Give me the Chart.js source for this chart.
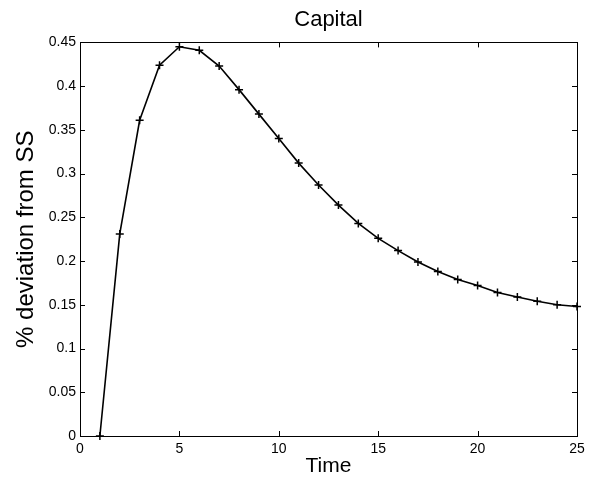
<!DOCTYPE html>
<html>
<head>
<meta charset="utf-8">
<script src="https://cdn.jsdelivr.net/npm/chart.js@4"></script>
<style>
  body { margin: 0; background: #fff; }
  #wrap { width: 603px; height: 484px; }
</style>
</head>
<body>
<div id="wrap"><canvas id="canvas" width="603" height="484"></canvas></div>
<script>
'use strict';

// time periods and capital response (% deviation from steady state)
var time = [1, 2, 3, 4, 5, 6, 7, 8, 9, 10, 11, 12, 13, 14, 15, 16, 17, 18, 19, 20, 21, 22, 23, 24, 25];
var capital = [0, 0.231, 0.361, 0.424, 0.445, 0.441, 0.423, 0.396, 0.368, 0.340, 0.312, 0.287, 0.264, 0.243, 0.226,
	0.212, 0.199, 0.188, 0.179, 0.172, 0.164, 0.159, 0.154, 0.150, 0.148];
var xTicks = [0, 5, 10, 15, 20, 25];
var yTicks = [0, 0.05, 0.1, 0.15, 0.2, 0.25, 0.3, 0.35, 0.4, 0.45];

var fontFamily = "'Liberation Sans', Arial, sans-serif";

// box around the axes plus inward tick marks on every side (matlab look)
var boxPlugin = {
	id: 'box',
	afterDraw: function(chart) {
		var ctx = chart.ctx;
		var a = chart.chartArea;
		var xs = chart.scales.x;
		var ys = chart.scales.y;
		var len = 5;
		ctx.save();
		ctx.strokeStyle = '#000';
		ctx.lineWidth = 1;
		ctx.strokeRect(Math.round(a.left) + 0.5, Math.round(a.top) + 0.5,
			Math.round(a.right - a.left), Math.round(a.bottom - a.top));
		ctx.beginPath();
		for (var i = 0; i < xTicks.length; i++) {
			var px = Math.round(xs.getPixelForValue(xTicks[i])) + 0.5;
			ctx.moveTo(px, a.bottom);
			ctx.lineTo(px, a.bottom - len);
			ctx.moveTo(px, a.top);
			ctx.lineTo(px, a.top + len);
		}
		for (var j = 0; j < yTicks.length; j++) {
			var py = Math.round(ys.getPixelForValue(yTicks[j])) + 0.5;
			ctx.moveTo(a.left, py);
			ctx.lineTo(a.left + len, py);
			ctx.moveTo(a.right, py);
			ctx.lineTo(a.right - len, py);
		}
		ctx.stroke();
		ctx.restore();
	}
};

var points = [];
for (var i = 0; i < time.length; i++) {
	points.push({ x: time[i], y: capital[i] });
}

var config = {
	type: 'line',
	data: {
		datasets: [{
			label: 'Capital',
			data: points,
			borderColor: '#000',
			backgroundColor: '#000',
			borderWidth: 1.6,
			fill: false,
			tension: 0,
			pointStyle: 'cross',
			pointRadius: 4,
			pointBorderWidth: 1.5,
			pointBorderColor: '#000',
			clip: false
		}]
	},
	options: {
		responsive: false,
		animation: false,
		layout: { padding: { left: 0, right: 26, top: 0, bottom: 0 } },
		plugins: {
			legend: { display: false },
			tooltip: { enabled: false },
			title: {
				display: true,
				text: 'Capital',
				fullSize: false,
				color: '#000',
				font: { family: fontFamily, size: 22, weight: 'normal' },
				padding: { top: 7, bottom: 9 }
			}
		},
		scales: {
			x: {
				type: 'linear',
				min: 0,
				max: 25,
				afterBuildTicks: function(scale) {
					scale.ticks = xTicks.map(function(v) { return { value: v }; });
				},
				afterFit: function(scale) { scale.height = 48; },
				grid: { display: false, drawTicks: false },
				border: { display: false },
				ticks: {
					color: '#000',
					padding: 5,
					maxRotation: 0,
					font: { family: fontFamily, size: 14 }
				},
				title: {
					display: true,
					text: 'Time',
					color: '#000',
					font: { family: fontFamily, size: 21 },
					padding: { top: 0, bottom: 5 }
				}
			},
			y: {
				type: 'linear',
				min: 0,
				max: 0.45,
				afterBuildTicks: function(scale) {
					scale.ticks = yTicks.map(function(v) { return { value: v }; });
				},
				afterFit: function(scale) { scale.width = 80; },
				grid: { display: false, drawTicks: false },
				border: { display: false },
				ticks: {
					color: '#000',
					padding: 4,
					font: { family: fontFamily, size: 14 },
					callback: function(v) { return String(+Number(v).toFixed(2)); }
				},
				title: {
					display: true,
					text: '% deviation from SS',
					color: '#000',
					font: { family: fontFamily, size: 24 },
					padding: { top: 12, bottom: 0 }
				}
			}
		}
	},
	plugins: [boxPlugin]
};

var ctx = document.getElementById('canvas').getContext('2d');
window.mychart = new Chart(ctx, config);
</script>
</body>
</html>
